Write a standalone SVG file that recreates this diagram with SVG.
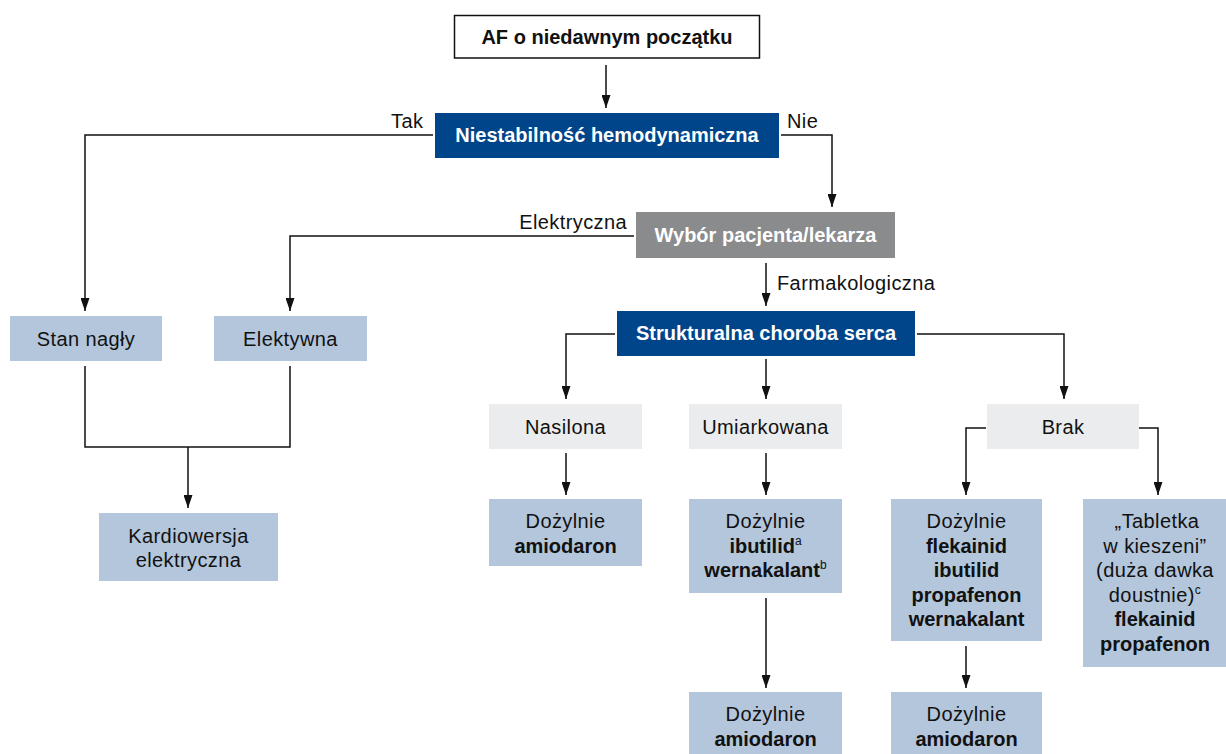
<svg xmlns="http://www.w3.org/2000/svg" width="1226" height="754" viewBox="0 0 1226 754">
  <style>
    text { font-family: "Liberation Sans", Arial, sans-serif; font-size: 20px; fill: #111; text-anchor: middle; letter-spacing: 0.4px; }
    .b { font-weight: bold; letter-spacing: 0; }
    .w { fill: #fff; font-weight: bold; letter-spacing: 0; }
    .lbl { text-anchor: start; }
    .end { text-anchor: end; }
    .sup { font-size: 12px; font-weight: normal; }
    .dark { fill: #00458a; }
    .grey { fill: #8a8b8d; }
    .pale { fill: #ebeced; }
    .blue { fill: #b3c6db; }
    .conn { fill: none; stroke: #111; stroke-width: 1.5; }
  </style>
  <defs>
    <marker id="arrow" markerUnits="userSpaceOnUse" viewBox="0 0 13 9" refX="13" refY="4.5" markerWidth="13" markerHeight="9" orient="auto">
      <path d="M0,0 L13,4.5 L0,9 z" fill="#111"/>
    </marker>
  </defs>

  <rect width="1226" height="754" fill="#fff"/>

  <!-- connectors -->
  <g id="connectors" class="conn">
    <path d="M606,65 V108" marker-end="url(#arrow)"/>
    <path d="M433,135 H85 V311" marker-end="url(#arrow)"/>
    <path d="M781,135 H832 V207" marker-end="url(#arrow)"/>
    <path d="M634,236 H290 V311" marker-end="url(#arrow)"/>
    <path d="M766,263 V306" marker-end="url(#arrow)"/>
    <path d="M85,366 V447 H290 V366"/>
    <path d="M188,447 V508" marker-end="url(#arrow)"/>
    <path d="M615,334 H566 V399" marker-end="url(#arrow)"/>
    <path d="M766,359 V399" marker-end="url(#arrow)"/>
    <path d="M917,334 H1064 V399" marker-end="url(#arrow)"/>
    <path d="M566,453 V495" marker-end="url(#arrow)"/>
    <path d="M766,453 V495" marker-end="url(#arrow)"/>
    <path d="M986,428 H966 V495" marker-end="url(#arrow)"/>
    <path d="M1139,428 H1158 V495" marker-end="url(#arrow)"/>
    <path d="M766,598 V688" marker-end="url(#arrow)"/>
    <path d="M966,646 V688" marker-end="url(#arrow)"/>
  </g>

  <!-- branch labels -->
  <g id="branch-labels">
    <text class="lbl" x="391" y="127.5">Tak</text>
    <text class="lbl" x="787" y="127.5">Nie</text>
    <text class="end" x="627" y="229">Elektryczna</text>
    <text class="lbl" x="777" y="290">Farmakologiczna</text>
  </g>

  <g id="start">
    <rect x="454.5" y="15.5" width="305" height="42.5" fill="#fff" stroke="#111" stroke-width="1.5"/>
    <text class="b" x="607" y="43.5">AF o niedawnym początku</text>
  </g>

  <g id="instability">
    <rect class="dark" x="435" y="113" width="344" height="45"/>
    <text class="w" x="607" y="141.5">Niestabilność hemodynamiczna</text>
  </g>

  <g id="choice">
    <rect class="grey" x="636" y="212" width="259" height="46"/>
    <text class="w" x="765.5" y="241.5">Wybór pacjenta/lekarza</text>
  </g>

  <g id="emergency">
    <rect class="blue" x="10" y="316" width="152" height="45"/>
    <text x="86" y="345.5">Stan nagły</text>
  </g>

  <g id="elective">
    <rect class="blue" x="214" y="316" width="153" height="45"/>
    <text x="290.5" y="345.5">Elektywna</text>
  </g>

  <g id="cardioversion">
    <rect class="blue" x="99" y="513" width="179" height="68"/>
    <text x="188.5" y="542.5">Kardiowersja</text>
    <text x="188.5" y="566.5">elektryczna</text>
  </g>

  <g id="structural">
    <rect class="dark" x="617" y="311" width="298" height="45"/>
    <text class="w" x="766" y="340">Strukturalna choroba serca</text>
  </g>

  <g id="severe">
    <rect class="pale" x="489" y="404" width="153" height="45"/>
    <text x="565.5" y="433.5">Nasilona</text>
  </g>

  <g id="moderate">
    <rect class="pale" x="689" y="404" width="153" height="45"/>
    <text x="765.5" y="433.5">Umiarkowana</text>
  </g>

  <g id="none">
    <rect class="pale" x="987" y="404" width="152" height="45"/>
    <text x="1063" y="433.5">Brak</text>
  </g>

  <g id="severe-drug">
    <rect class="blue" x="489" y="499" width="153" height="67"/>
    <text x="565.5" y="528">Dożylnie</text>
    <text class="b" x="565.5" y="552.5">amiodaron</text>
  </g>

  <g id="moderate-drug">
    <rect class="blue" x="689" y="499" width="153" height="94"/>
    <text x="765.5" y="528">Dożylnie</text>
    <text class="b" x="765.5" y="552.5">ibutilid<tspan class="sup" dy="-8">a</tspan></text>
    <text class="b" x="765.5" y="576.5">wernakalant<tspan class="sup" dy="-8">b</tspan></text>
  </g>

  <g id="moderate-fallback">
    <rect class="blue" x="689" y="692" width="153" height="70"/>
    <text x="765.5" y="720.5">Dożylnie</text>
    <text class="b" x="765.5" y="745.5">amiodaron</text>
  </g>

  <g id="none-iv">
    <rect class="blue" x="891" y="499" width="151" height="142"/>
    <text x="966.5" y="528">Dożylnie</text>
    <text class="b" x="966.5" y="552.5">flekainid</text>
    <text class="b" x="966.5" y="577">ibutilid</text>
    <text class="b" x="966.5" y="601.5">propafenon</text>
    <text class="b" x="966.5" y="626">wernakalant</text>
  </g>

  <g id="none-fallback">
    <rect class="blue" x="891" y="692" width="151" height="70"/>
    <text x="966.5" y="720.5">Dożylnie</text>
    <text class="b" x="966.5" y="745.5">amiodaron</text>
  </g>

  <g id="pill-in-pocket">
    <rect class="blue" x="1083" y="499" width="143" height="168"/>
    <text x="1157" y="528">„Tabletka</text>
    <text x="1155" y="552.5">w kieszeni”</text>
    <text x="1155" y="577">(duża dawka</text>
    <text x="1155" y="601.5">doustnie)<tspan class="sup" dy="-8">c</tspan></text>
    <text class="b" x="1155" y="626">flekainid</text>
    <text class="b" x="1155" y="650.5">propafenon</text>
  </g>
</svg>
